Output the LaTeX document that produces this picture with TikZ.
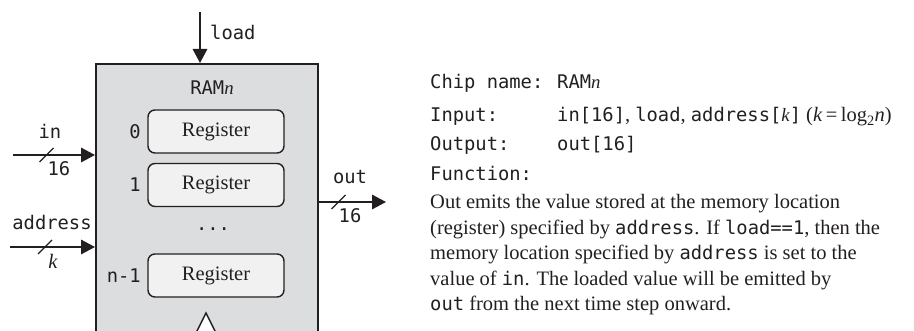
\documentclass[tikz,border=0pt]{standalone}
\usepackage{fontspec}
\setmainfont{Liberation Serif}
\setmonofont{DejaVu Sans Mono}
\usetikzlibrary{arrows.meta}
\definecolor{ink}{HTML}{231F20}
\definecolor{chipgray}{HTML}{DCDDDF}
\definecolor{regfill}{HTML}{F1F1F2}
\newcommand\pinfont{\fontsize{18.8}{22}\selectfont\ttfamily}
\newcommand\bodyfont{\fontsize{20.5}{25.5}\selectfont\rmfamily}
\newcommand\code[1]{{\fontsize{18.8}{22}\selectfont\ttfamily #1}}
\newcommand\mvar[1]{{\rmfamily\itshape #1}}

\begin{document}
\begin{tikzpicture}[x=1pt,y=-1pt,
  every node/.style={text=ink, inner sep=0pt},
  chip/.style={draw=ink, fill=chipgray, line width=1.6pt},
  regbox/.style={draw=ink, fill=regfill, line width=1.4pt, rounded corners=7pt,
    minimum width=136pt, minimum height=43pt, font=\bodyfont},
  pin/.style={font=\pinfont},
  sig/.style={draw=ink, line width=1.6pt, -{Triangle[length=14pt,width=14.5pt]}},
  buswidth/.style={draw=ink, line width=1.2pt},
  line/.style={anchor=base west, font=\pinfont},
  prose/.style={anchor=base west, font=\bodyfont}]
\useasboundingbox (0,0) rectangle (914,331);
\clip (0,0) rectangle (914,331);

% the RAM chip body (runs past the lower edge)
\node[chip, anchor=north west, minimum width=222pt, minimum height=300pt] (ram) at (95,63) {};
\node[pin] (title) at (212,88) {RAM\mvar{n}};

% registers and their addresses
\node[regbox] (r0) at (216,131.5) {Register};
\node[regbox] (r1) at (216,185) {Register};
\node[regbox] (rn) at (216,275.5) {Register};
\node[pin, anchor=east] (i0) at (141,131.5) {0};
\node[pin, anchor=east] (i1) at (141,185) {1};
\node[pin, anchor=east] (in1) at (141,275.5) {n-1};
\node[pin] (dots) at (213,229) {...};

% clock input triangle
\draw[draw=ink, fill=white, line width=1.4pt] (188,349) -- (206,313) -- (224,349);

% load input
\coordinate (loadsrc) at (200,12);
\draw[sig] (loadsrc) -- (loadsrc |- ram.north);
\node[pin, anchor=west] (loadlbl) at (210,32) {load};

% data input
\coordinate (insrc) at (13,155);
\draw[sig] (insrc) -- (insrc -| ram.west);
\node[pin] (inlbl) at (50,131) {in};
\coordinate (inbus) at (46.5,155);
\draw[buswidth] ([shift={(-7,7)}]inbus) -- ([shift={(7,-7)}]inbus);
\node[pin] (inw) at (59,169) {16};

% address input
\coordinate (adsrc) at (10,247);
\draw[sig] (adsrc) -- (adsrc -| ram.west);
\node[pin] (adlbl) at (52,222) {address};
\coordinate (adbus) at (45,247);
\draw[buswidth] ([shift={(-7,7)}]adbus) -- ([shift={(7,-7)}]adbus);
\node[font=\bodyfont\itshape] (adw) at (53,261) {k};

% data output
\coordinate (outdst) at (386,202);
\draw[sig] (outdst -| ram.east) -- (outdst);
\node[pin] (outlbl) at (350,177) {out};
\coordinate (outbus) at (338.5,202);
\draw[buswidth] ([shift={(-7,7)}]outbus) -- ([shift={(7,-7)}]outbus);
\node[pin] (outw) at (350,216) {16};

% chip description
\node[line] (k1) at (430,89) {Chip name:};
\node[line] (v1) at (557,89) {RAM\mvar{n}};
\node[line] (k2) at (430,122) {Input:};
\node[line] (v2) at (557,122) {in[16]{\bodyfont, }load{\bodyfont, }address[\mvar{k}]{\bodyfont\ (\textit{k}\,=\,log\textsubscript{2}\textit{n})}};
\node[line] (k3) at (430,151) {Output:};
\node[line] (v3) at (557,151) {out[16]};
\node[line] (k4) at (430,181) {Function:};
\node[prose] (p1) at (430,209) {Out emits the value stored at the memory location};
\node[prose] (p2) at (430,234.5) {(register) specified by \code{address}. If \code{load==1}, then the};
\node[prose] (p3) at (430,260) {memory location specified by \code{address} is set to the};
\node[prose] (p4) at (430,285.5) {value of \code{in}. The loaded value will be emitted by};
\node[prose] (p5) at (430,311) {\code{out} from the next time step onward.};
\end{tikzpicture}
\end{document}
